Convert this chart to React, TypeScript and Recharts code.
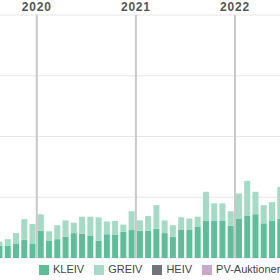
import { Bar, BarChart, CartesianGrid, Legend, ReferenceLine, XAxis, YAxis } from "recharts";

const months = [
  "2019-08", "2019-09", "2019-10", "2019-11", "2019-12",
  "2020-01", "2020-02", "2020-03", "2020-04", "2020-05", "2020-06",
  "2020-07", "2020-08", "2020-09", "2020-10", "2020-11", "2020-12",
  "2021-01", "2021-02", "2021-03", "2021-04", "2021-05", "2021-06",
  "2021-07", "2021-08", "2021-09", "2021-10", "2021-11", "2021-12",
  "2022-01", "2022-02", "2022-03", "2022-04", "2022-05", "2022-06",
];

const kleiv = [
  20, 20, 24, 30, 23,
  45, 28, 31, 35, 41, 40, 37, 28, 39, 38, 43, 46,
  45, 45, 48, 41, 35, 47, 47, 51, 61, 61, 61, 53,
  64, 70, 72, 57, 61, 65,
];

const greiv = [
  7, 11, 17, 34, 33,
  27, 16, 23, 27, 17, 28, 31, 39, 21, 23, 12, 31,
  17, 24, 39, 21, 19, 20, 18, 17, 48, 29, 29, 24,
  42, 57, 37, 30, 31, 52,
];

// nothing visible for these two in this window
const heiv = months.map(() => 0);
const pvAuktioner = months.map(() => 0);

const seriesNames = ["KLEIV", "GREIV", "HEIV", "PV-Auktioner"];
const yTicks = [0, 100, 200, 300, 400];

const COLORS: Record<string, string> = {
  KLEIV: "#5fbd9a",
  GREIV: "#a5dac6",
  HEIV: "#70757b",
  "PV-Auktioner": "#c9a8c9",
};

const data = months.map((m, i) => ({
  i,
  month: m,
  KLEIV: kleiv[i],
  GREIV: greiv[i],
  HEIV: heiv[i],
  "PV-Auktioner": pvAuktioner[i],
}));

const yearStarts = data.filter((d) => d.month.endsWith("-01"));

export default function App() {
  return (
    <div
      style={{
        position: "fixed",
        left: 0,
        top: 0,
        width: 280,
        height: 280,
        overflow: "hidden",
        background: "#fff",
        fontFamily: "'Liberation Sans', Arial, sans-serif",
      }}
    >
      <div style={{ marginLeft: -20 }}>
        <BarChart
          width={310}
          height={280}
          data={data}
          margin={{ top: 15, right: 5.5, left: 15.5, bottom: 0 }}
        >
          <CartesianGrid vertical={false} stroke="#e6e6e6" />
          <XAxis
            type="number"
            dataKey="i"
            domain={[-0.5, months.length - 0.5]}
            hide
          />
          <YAxis domain={[0, 400]} ticks={yTicks} hide />
          {yearStarts.map((d) => (
            <ReferenceLine
              key={d.month}
              x={d.i - 0.5}
              stroke="#c8c8c8"
              strokeWidth={2}
              label={{
                value: d.month.slice(0, 4),
                position: "top",
                offset: 4,
                fill: "#555",
                fontSize: 12,
                fontWeight: 700,
                letterSpacing: 0.8,
              }}
            />
          ))}
          <Legend
            align="left"
            verticalAlign="bottom"
            iconType="square"
            iconSize={10}
            itemSorter={(item: any) => seriesNames.indexOf(item.value)}
            wrapperStyle={{
              left: 59,
              height: 22,
              boxSizing: "border-box",
              paddingTop: 5,
              fontSize: 11,
            }}
            formatter={(v) => <span style={{ color: "#444" }}>{v}</span>}
          />
          {seriesNames.map((name) => (
            <Bar
              key={name}
              dataKey={name}
              stackId="a"
              fill={COLORS[name]}
              barSize={6}
              isAnimationActive={false}
            />
          ))}
        </BarChart>
      </div>
    </div>
  );
}
